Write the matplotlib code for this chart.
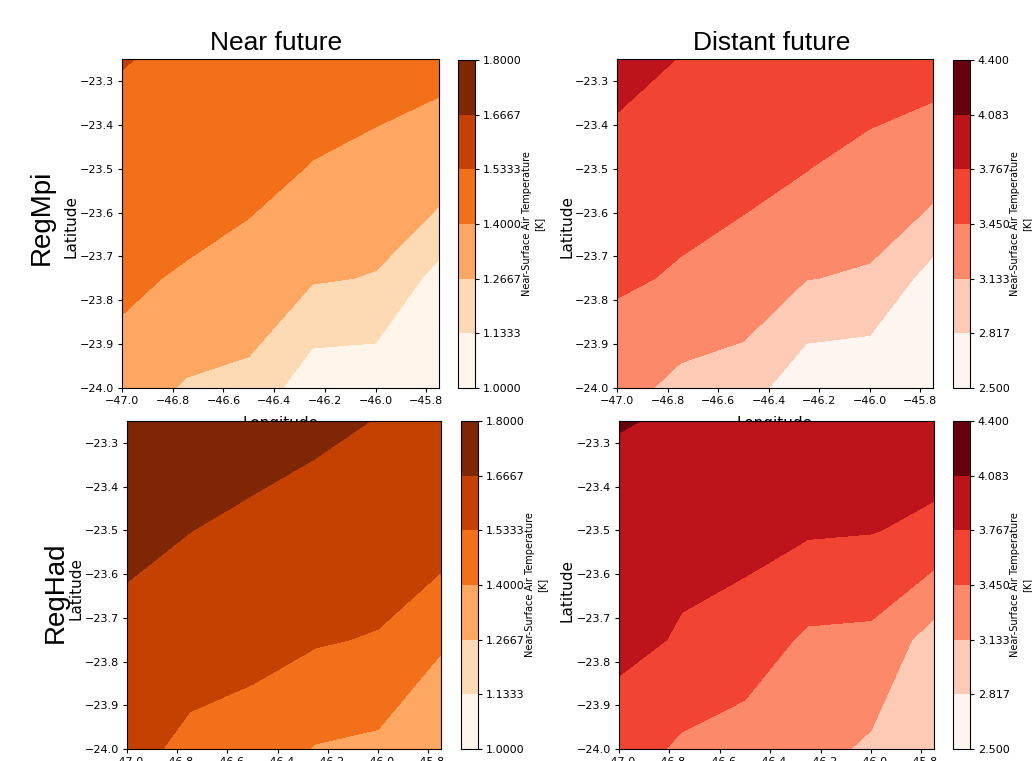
import numpy as np
import matplotlib
matplotlib.use("Agg")
import matplotlib.pyplot as plt
from matplotlib.colors import Normalize

# grid of the model output
lon = [-47.0, -46.75, -46.5, -46.25, -46.0, -45.75]
lat = [-24.0, -23.75, -23.5, -23.25]

near_levels = [1.0, 1.13333, 1.26667, 1.4, 1.53333, 1.66667, 1.8]
far_levels = [2.5, 2.81667, 3.13333, 3.45, 3.76667, 4.08333, 4.4]

# temperature anomalies (K), rows = lat, cols = lon
mpi_near = [
    [1.330, 1.255, 1.229, 1.050, 1.045, 1.020],
    [1.435, 1.379, 1.360, 1.279, 1.260, 1.086],
    [1.500, 1.513, 1.433, 1.395, 1.357, 1.360],
    [1.537, 1.519, 1.490, 1.460, 1.470, 1.421],
]
mpi_far = [
    [3.250, 3.049, 2.965, 2.594, 2.551, 2.520],
    [3.495, 3.420, 3.360, 3.140, 3.105, 2.687],
    [3.650, 3.573, 3.515, 3.458, 3.307, 3.337],
    [3.880, 3.758, 3.680, 3.620, 3.700, 3.522],
]
had_near = [
    [1.580, 1.498, 1.460, 1.393, 1.373, 1.280],
    [1.630, 1.602, 1.584, 1.545, 1.524, 1.418],
    [1.700, 1.668, 1.645, 1.620, 1.620, 1.605],
    [1.760, 1.720, 1.712, 1.691, 1.663, 1.630],
]
had_far = [
    [3.600, 3.396, 3.312, 3.240, 3.083, 2.900],
    [3.850, 3.740, 3.620, 3.400, 3.380, 3.000],
    [3.980, 3.847, 3.875, 3.800, 3.780, 3.700],
    [4.096, 4.058, 4.000, 3.980, 3.960, 3.950],
]

W, H = 1032, 761


def caja(x0, y0, x1, y1):
    # pixel box -> figure fraction
    return [x0 / W, 1 - y1 / H, (x1 - x0) / W, (y1 - y0) / H]


fig = plt.figure(figsize=(W / 100, H / 100), dpi=100)

paneles = [
    (mpi_near, near_levels, 'Oranges', '%.4f', (122, 59, 439, 388), (458, 60, 475, 388)),
    (mpi_far, far_levels, 'Reds', '%.3f', (617, 59, 933, 388), (953, 60, 970, 388)),
    (had_near, near_levels, 'Oranges', '%.4f', (127, 421, 441, 749), (461, 421, 478, 749)),
    (had_far, far_levels, 'Reds', '%.3f', (619, 421, 934, 749), (953, 421, 970, 749)),
]

for datos, niveles, cmap, fmt, caja_ax, caja_cb in paneles:
    ax = fig.add_axes(caja(*caja_ax))
    # colores de las capas desde el extremo claro al oscuro del mapa
    norma = Normalize((niveles[0] + niveles[1]) / 2, (niveles[-2] + niveles[-1]) / 2)
    cs = ax.contourf(lon, lat, np.array(datos), levels=niveles, cmap=cmap, norm=norma)
    ax.set_xlim(lon[0], lon[-1])
    ax.set_ylim(lat[0], lat[-1])
    ax.set_xticks([-47.0, -46.8, -46.6, -46.4, -46.2, -46.0, -45.8])
    ax.set_yticks([-24.0, -23.9, -23.8, -23.7, -23.6, -23.5, -23.4, -23.3])
    ax.tick_params(labelsize=8, length=2.8, pad=2.8)
    # la fila de abajo tapa casi toda esta etiqueta, como en el original
    ax.set_xlabel('Longitude', fontsize=11, labelpad=7.5)
    cax = fig.add_axes(caja(*caja_cb))
    cb = fig.colorbar(cs, cax=cax, ticks=niveles, format=fmt)
    cb.ax.tick_params(labelsize=8, length=2.8, pad=2.8)
    cb.set_label('Near-Surface Air Temperature\n[K]', fontsize=7, labelpad=0.5)

# ylabels
for x, y in [(71, 226), (76, 588), (567, 226), (567, 590)]:
    fig.text(x / W, 1 - y / H, 'Latitude', rotation=90, ha='center', va='center', fontsize=11)

# titulos y filas
fuente = 'Liberation Sans'
fig.text(276 / W, 1 - 43 / H, 'Near future', ha='center', va='center', fontsize=19, family=fuente)
fig.text(772 / W, 1 - 43 / H, 'Distant future', ha='center', va='center', fontsize=19, family=fuente)
fig.text(42 / W, 1 - 217 / H, 'RegMpi', rotation=90, ha='center', va='center', fontsize=20, family=fuente)
fig.text(56 / W, 1 - 592 / H, 'RegHad', rotation=90, ha='center', va='center', fontsize=20, family=fuente)

fig.savefig('out.png', dpi=100)
